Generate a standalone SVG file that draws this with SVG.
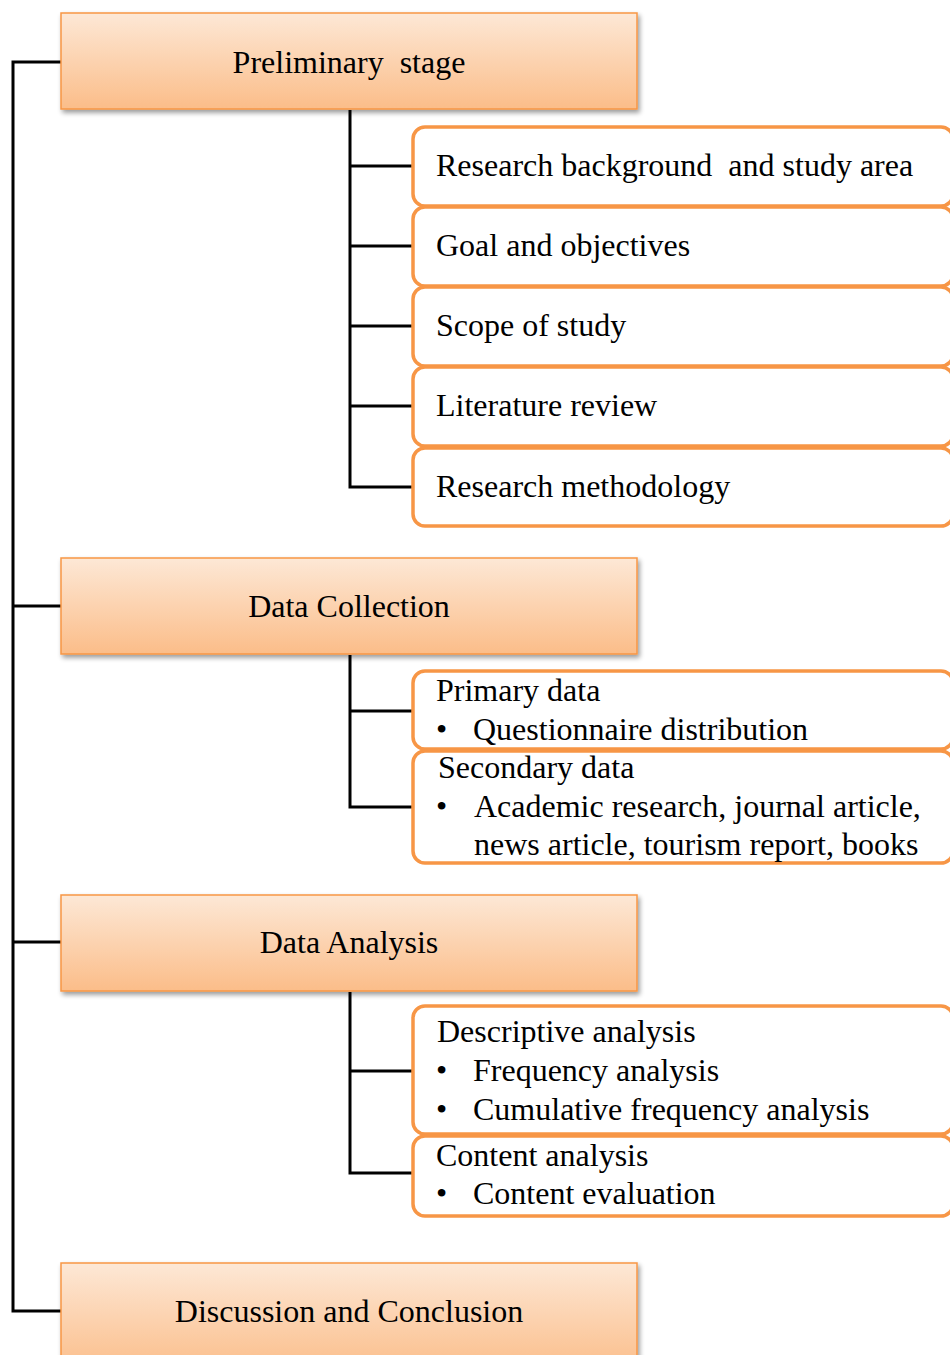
<svg xmlns="http://www.w3.org/2000/svg" width="950" height="1355" viewBox="0 0 950 1355">
<style>
.main{fill:url(#g);stroke:#f79646;stroke-width:1.5;filter:url(#sh)}
.sub{fill:#fff;stroke:#f79646;stroke-width:3.5}
.c{fill:none;stroke:#000;stroke-width:3}
text{font-family:"Liberation Serif","Times New Roman",serif;font-size:32px;fill:#000;white-space:pre}
.mt{text-anchor:middle}
</style>
<defs>
<linearGradient id="g" x1="0" y1="0" x2="0" y2="1">
<stop offset="0" stop-color="#fde8d6"/>
<stop offset="1" stop-color="#fbbd89"/>
</linearGradient>
<filter id="sh" x="-5%" y="-10%" width="115%" height="130%">
<feGaussianBlur in="SourceAlpha" stdDeviation="2.5"/>
<feOffset dx="2" dy="3"/>
<feComponentTransfer><feFuncA type="linear" slope="0.4"/></feComponentTransfer>
<feMerge><feMergeNode/><feMergeNode in="SourceGraphic"/></feMerge>
</filter>
</defs>
<g id="connectors">
<path class="c" d="M61 62H13V1311H61M13 606H61M13 942H61"/>
<path class="c" d="M350 110V487H413M350 166H413M350 246H413M350 326H413M350 406H413"/>
<path class="c" d="M350 655V807H413M350 711H413"/>
<path class="c" d="M350 992V1173H413M350 1071H413"/>
</g>
<g id="n1"><rect class="main" x="61" y="13" width="576" height="96"/><text class="mt" x="349" y="73" xml:space="preserve">Preliminary  stage</text></g>
<g id="n1a"><rect class="sub" x="413" y="127" width="540" height="79" rx="12"/><text x="436" y="176" xml:space="preserve">Research background  and study area</text></g>
<g id="n1b"><rect class="sub" x="413" y="207" width="540" height="79" rx="12"/><text x="436" y="256">Goal and objectives</text></g>
<g id="n1c"><rect class="sub" x="413" y="287" width="540" height="79" rx="12"/><text x="436" y="336">Scope of study</text></g>
<g id="n1d"><rect class="sub" x="413" y="367" width="540" height="79" rx="12"/><text x="436" y="416">Literature review</text></g>
<g id="n1e"><rect class="sub" x="413" y="448" width="540" height="78" rx="12"/><text x="436" y="497">Research methodology</text></g>
<g id="n2"><rect class="main" x="61" y="558" width="576" height="96"/><text class="mt" x="349" y="617">Data Collection</text></g>
<g id="n2a"><rect class="sub" x="413" y="671" width="540" height="78" rx="12"/><text x="436" y="701">Primary data</text><text x="436" y="740">•</text><text x="473" y="740">Questionnaire distribution</text></g>
<g id="n2b"><rect class="sub" x="413" y="751" width="540" height="112" rx="12"/><text x="438" y="778">Secondary data</text><text x="436" y="817">•</text><text x="474" y="817">Academic research, journal article,</text><text x="474" y="855">news article, tourism report, books</text></g>
<g id="n3"><rect class="main" x="61" y="895" width="576" height="96"/><text class="mt" x="349" y="953">Data Analysis</text></g>
<g id="n3a"><rect class="sub" x="413" y="1006" width="540" height="128" rx="12"/><text x="437" y="1042">Descriptive analysis</text><text x="436" y="1081">•</text><text x="473" y="1081">Frequency analysis</text><text x="436" y="1120">•</text><text x="473" y="1120">Cumulative frequency analysis</text></g>
<g id="n3b"><rect class="sub" x="413" y="1136" width="540" height="80" rx="12"/><text x="436" y="1166">Content analysis</text><text x="436" y="1204">•</text><text x="473" y="1204">Content evaluation</text></g>
<g id="n4"><rect class="main" x="61" y="1263" width="576" height="110"/><text class="mt" x="349" y="1322">Discussion and Conclusion</text></g>
</svg>
